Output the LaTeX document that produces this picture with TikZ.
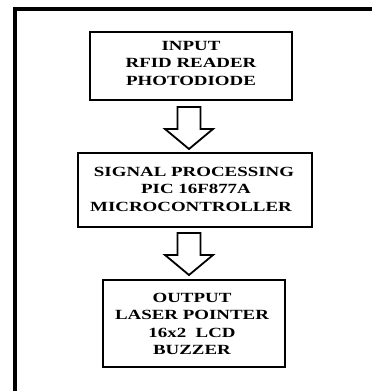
\documentclass[tikz,border=0pt]{standalone}
\usepackage{fontspec}
\setmainfont[FakeStretch=1.35]{Liberation Serif}
\begin{document}
\begin{tikzpicture}[x=1pt,y=-1pt,
  blocktext/.style={font=\fontsize{14}{17.5}\selectfont\bfseries,align=center},
  blockarrow/.style={draw=black,line width=1.8pt,fill=white,line join=miter}]
\useasboundingbox (0,0) rectangle (372,391);
\fill[white] (0,0) rectangle (372,391);
% outer frame (only left and top edges are visible)
\draw[line width=4pt] (15,391) -- (15,8.5) -- (372,8.5);
% boxes
\draw[line width=2pt] (90,32) rectangle (292,100);
\node[blocktext] (in) at (191,63) {INPUT\\RFID READER\\PHOTODIODE};
\draw[line width=2pt] (78,153) rectangle (312,227);
\node[blocktext] (sp) at (194,189) {SIGNAL PROCESSING\\\hspace*{4pt}PIC 16F877A\\MICROCONTROLLER\hspace*{6pt}};
\draw[line width=2pt] (103,280) rectangle (285,367);
\node[blocktext] (out) at (192,324) {OUTPUT\\LASER POINTER\\16x2~ LCD\\BUZZER};
% block arrows
\coordinate (a1) at (189,107);
\coordinate (a2) at (189,233);
\foreach \c in {a1,a2}{
  \draw[blockarrow] ([xshift=-11.5pt]\c) -- ([xshift=11.5pt]\c) -- ([shift={(11.5pt,-22pt)}]\c)
    -- ([shift={(24pt,-22pt)}]\c) -- ([yshift=-42pt]\c) -- ([shift={(-24pt,-22pt)}]\c)
    -- ([shift={(-11.5pt,-22pt)}]\c) -- cycle;
}
\end{tikzpicture}
\end{document}
